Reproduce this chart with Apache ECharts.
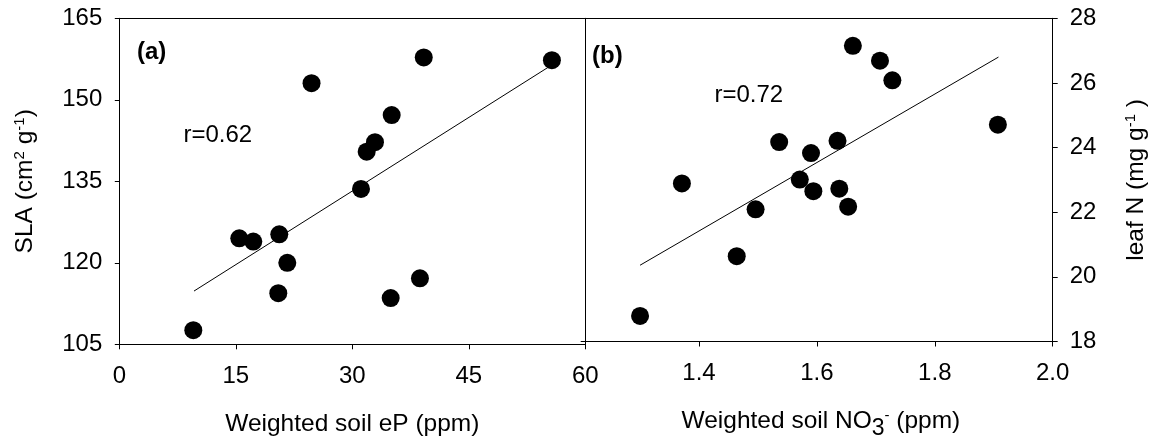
<!DOCTYPE html>
<html>
<head>
<meta charset="utf-8">
<script src="https://cdn.jsdelivr.net/npm/echarts@6/dist/echarts.min.js"></script>
<style>
html,body{margin:0;padding:0;background:#fff;}
#chart{width:1158px;height:445px;}
</style>
</head>
<body>
<div id="chart"></div>
<script>
// Panel (a): weighted soil eP vs SLA
const ePValues  = [9.53, 15.45, 17.25, 20.6, 21.63, 20.47, 24.75, 31.12, 31.85, 32.92, 35.07, 34.94, 38.71, 39.2, 55.7];
const slaValues = [107.6, 124.5, 123.9, 125.25, 120.0, 114.4, 153.06, 133.6, 140.45, 142.2, 147.2, 113.5, 117.15, 157.8, 157.3];
const trendA = [[9.62, 114.8], [55.35, 156.1]];

// Panel (b): weighted soil NO3- vs leaf N
const no3Values   = [1.300, 1.371, 1.464, 1.496, 1.536, 1.571, 1.590, 1.594, 1.635, 1.638, 1.653, 1.661, 1.707, 1.728, 1.907];
const leafNValues = [18.79, 22.89, 20.64, 22.09, 24.17, 23.01, 23.83, 22.65, 24.21, 22.73, 22.17, 27.15, 26.69, 26.08, 24.71];
const trendB = [[1.300, 20.36], [1.908, 26.8]];

// Tick values
const ticksXA = [0, 15, 30, 45, 60];
const ticksYA = [105, 120, 135, 150, 165];
const ticksXB = [1.4, 1.6, 1.8, 2.0];
const ticksYB = [18, 20, 22, 24, 26, 28];

const FONT = "'Liberation Sans', Arial, sans-serif";
const FS = 24;
const FST = 24.5;
const BLACK = '#000';

const pairs = (xs, ys) => xs.map((x, i) => [x, ys[i]]);

const lineStyle = { color: BLACK, width: 1 };
const labelStyle = { color: BLACK, fontFamily: FONT, fontSize: FS };

const richMain = { fontFamily: FONT, fontSize: FST, color: BLACK, lineHeight: 25 };
const richSup  = { fontFamily: FONT, fontSize: 15, color: BLACK, lineHeight: 15, height: 15, verticalAlign: 'top' };
const richSub  = { fontFamily: FONT, fontSize: 23, color: BLACK, lineHeight: 10, height: 10, verticalAlign: 'bottom' };
const rich = { m: richMain, sup: richSup, sub: richSub };

const frameAxis = (gridIndex, position) => ({
  gridIndex, position, type: 'value',
  axisLine: { show: true, onZero: false, lineStyle },
  axisTick: { show: false }, axisLabel: { show: false }, splitLine: { show: false }
});

const chart = echarts.init(document.getElementById('chart'), null, { renderer: 'canvas' });

chart.setOption({
  animation: false,
  backgroundColor: '#fff',
  grid: [
    { left: 119.3, top: 18.3, width: 466, height: 326 },
    { left: 581.1, top: 18.3, width: 471.6, height: 326 }
  ],
  xAxis: [
    {
      gridIndex: 0, type: 'value', position: 'bottom',
      min: ticksXA[0], max: ticksXA[ticksXA.length - 1], interval: ticksXA[1] - ticksXA[0],
      axisLine: { show: true, onZero: false, lineStyle },
      axisTick: { show: true, length: 5, lineStyle },
      axisLabel: Object.assign({ margin: 20, showMaxLabel: true, showMinLabel: true }, labelStyle),
      splitLine: { show: false },
      name: '{m|Weighted soil eP (ppm)}',
      nameLocation: 'middle', nameGap: 67,
      nameTextStyle: { rich }
    },
    Object.assign(frameAxis(0, 'top'), { min: 0, max: 60 }),
    {
      gridIndex: 1, type: 'value', position: 'bottom',
      min: 1.2, max: ticksXB[ticksXB.length - 1], interval: 0.2,
      axisLine: { show: true, onZero: false, lineStyle },
      axisTick: { show: true, length: 5, lineStyle, customValues: ticksXB },
      axisLabel: Object.assign({ margin: 20, customValues: ticksXB, formatter: v => Number(v).toFixed(1) }, labelStyle),
      splitLine: { show: false },
      name: '{m|Weighted soil NO}{sub|3}{sup|-}{m| (ppm)}',
      nameLocation: 'middle', nameGap: 67,
      nameTextStyle: { rich, padding: [0, 0, 0, 8] }
    },
    Object.assign(frameAxis(1, 'top'), { min: 1.2, max: 2.0 })
  ],
  yAxis: [
    {
      gridIndex: 0, type: 'value', position: 'left',
      min: ticksYA[0], max: ticksYA[ticksYA.length - 1], interval: ticksYA[1] - ticksYA[0],
      axisLine: { show: true, onZero: false, lineStyle },
      axisTick: { show: true, length: 4.5, lineStyle },
      axisLabel: Object.assign({ margin: 17, showMaxLabel: true, showMinLabel: true }, labelStyle),
      splitLine: { show: false },
      name: '{m|SLA (cm}{sup|2}{m| g}{sup|-1}{m|)}',
      nameLocation: 'middle', nameGap: 82,
      nameTextStyle: { rich }
    },
    Object.assign(frameAxis(0, 'right'), { min: 105, max: 165 }),
    {
      gridIndex: 1, type: 'value', position: 'right',
      min: ticksYB[0], max: ticksYB[ticksYB.length - 1], interval: ticksYB[1] - ticksYB[0],
      axisLine: { show: true, onZero: false, lineStyle },
      axisTick: { show: true, length: 5, lineStyle },
      axisLabel: Object.assign({ margin: 17, showMaxLabel: true, showMinLabel: true }, labelStyle),
      splitLine: { show: false },
      name: '{m|leaf N (mg g}{sup|-1}{m| )}',
      nameLocation: 'middle', nameGap: 71,
      nameTextStyle: { rich }
    }
  ],
  series: [
    {
      type: 'line', xAxisIndex: 0, yAxisIndex: 0, data: trendA,
      showSymbol: false, symbol: 'none', lineStyle: { color: BLACK, width: 1 }, silent: true, z: 1
    },
    {
      type: 'scatter', xAxisIndex: 0, yAxisIndex: 0, data: pairs(ePValues, slaValues),
      symbol: 'circle', symbolSize: 18, itemStyle: { color: BLACK, opacity: 1 }, z: 2
    },
    {
      type: 'line', xAxisIndex: 2, yAxisIndex: 2, data: trendB,
      showSymbol: false, symbol: 'none', lineStyle: { color: BLACK, width: 1 }, silent: true, z: 1
    },
    {
      type: 'scatter', xAxisIndex: 2, yAxisIndex: 2, data: pairs(no3Values, leafNValues),
      symbol: 'circle', symbolSize: 18, itemStyle: { color: BLACK, opacity: 1 }, z: 2
    }
  ],
  graphic: [
    { type: 'text', x: 137, y: 52, style: { text: '(a)', fill: BLACK, font: 'bold ' + FS + 'px ' + FONT, textVerticalAlign: 'middle', textAlign: 'left' } },
    { type: 'text', x: 592, y: 56.5, style: { text: '(b)', fill: BLACK, font: 'bold ' + FS + 'px ' + FONT, textVerticalAlign: 'middle', textAlign: 'left' } },
    { type: 'text', x: 183.5, y: 135.5, style: { text: 'r=0.62', fill: BLACK, font: FS + 'px ' + FONT, textVerticalAlign: 'middle', textAlign: 'left' } },
    { type: 'text', x: 714.5, y: 95.5, style: { text: 'r=0.72', fill: BLACK, font: FS + 'px ' + FONT, textVerticalAlign: 'middle', textAlign: 'left' } }
  ]
});
</script>
</body>
</html>
